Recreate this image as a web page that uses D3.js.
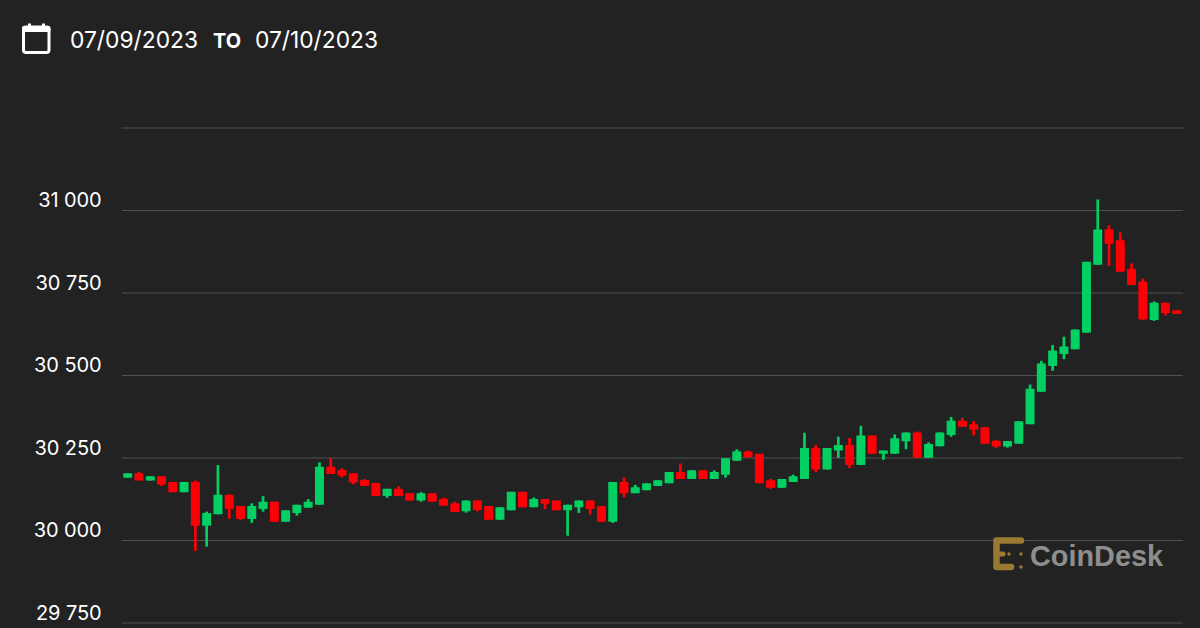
<!DOCTYPE html>
<html><head><meta charset="utf-8">
<script src="https://cdn.jsdelivr.net/npm/d3@7/dist/d3.min.js"></script>
<style>html,body{margin:0;padding:0;background:#222222;overflow:hidden}svg{display:block}</style>
</head><body><svg id="c" width="1200" height="628"></svg>
<script>
const dateFrom = "07/09/2023", dateTo = "07/10/2023", joiner = "TO", brand = "CoinDesk";
const gridTicks = [29750,30000,30250,30500,30750,31000,31250];
const labeledTicks = [29750,30000,30250,30500,30750,31000];
const open = [30189,30202,30180,30193,30176,30145,30176,30043,30078,30137,30103,30064,30094,30116,30055,30082,30098,30107,30222,30212,30202,30182,30173,30133,30155,30142,30120,30142,30124,30111,30087,30120,30103,30061,30090,30146,30099,30124,30120,30090,30099,30120,30103,30055,30176,30142,30151,30164,30172,30206,30185,30211,30185,30198,30240,30268,30261,30181,30158,30176,30185,30279,30214,30271,30288,30227,30317,30261,30261,30299,30326,30249,30284,30318,30361,30351,30342,30301,30283,30292,30351,30449,30527,30564,30578,30628,30834,30942,30908,30821,30783,30667,30719,30696];
const close = [30202,30180,30193,30168,30145,30176,30043,30082,30137,30094,30064,30103,30116,30055,30090,30107,30116,30222,30200,30195,30174,30164,30133,30155,30133,30120,30142,30116,30104,30085,30120,30091,30061,30099,30146,30099,30124,30110,30090,30107,30120,30094,30055,30176,30142,30160,30172,30181,30206,30185,30211,30185,30206,30248,30269,30251,30172,30158,30185,30193,30279,30214,30279,30288,30227,30317,30261,30271,30308,30326,30249,30291,30326,30361,30343,30334,30292,30283,30300,30360,30458,30535,30574,30586,30638,30843,30941,30898,30813,30773,30668,30719,30688,30685];
const high = [30202,30206,30193,30193,30176,30176,30180,30086,30227,30137,30103,30111,30133,30116,30090,30107,30124,30235,30249,30218,30202,30185,30173,30155,30163,30142,30145,30142,30128,30116,30120,30120,30103,30099,30146,30146,30129,30124,30120,30107,30120,30120,30103,30176,30189,30167,30172,30181,30206,30232,30211,30211,30211,30248,30275,30271,30261,30185,30185,30198,30325,30288,30279,30313,30309,30346,30317,30271,30320,30326,30329,30296,30326,30373,30370,30360,30342,30304,30300,30360,30471,30543,30591,30616,30638,30843,31032,30954,30932,30838,30792,30723,30719,30696];
const low = [30189,30180,30180,30164,30145,30145,29967,29980,30078,30064,30061,30052,30086,30055,30055,30074,30098,30107,30200,30190,30169,30164,30133,30128,30133,30120,30116,30116,30104,30085,30083,30087,30061,30061,30090,30099,30099,30094,30090,30013,30082,30077,30055,30052,30129,30142,30151,30164,30172,30185,30185,30185,30185,30189,30240,30249,30172,30155,30158,30176,30185,30206,30214,30249,30218,30227,30261,30243,30261,30275,30249,30249,30284,30313,30343,30317,30292,30279,30280,30292,30351,30449,30513,30548,30578,30628,30834,30830,30813,30773,30668,30664,30681,30685];

const svg = d3.select("#c");
const y = d3.scaleLinear().domain([29750,31250]).range([622.5,127.5]);
const x = d3.scaleLinear().domain([0,open.length-1]).range([127.7,1176.7]);
const fmt = v => { const s = String(v); return s.slice(0,-3)+" "+s.slice(-3); };

// grid
const grid = svg.append("g").attr("transform","translate(122,0)")
  .call(d3.axisRight(y).tickValues(gridTicks).tickSize(1061).tickFormat(""));
grid.select(".domain").remove();
grid.selectAll("line").attr("stroke","#515151").attr("stroke-width",1.2);

// y labels
const axis = svg.append("g").attr("transform","translate(101.5,-9.5)")
  .call(d3.axisLeft(y).tickValues(labeledTicks).tickSize(0).tickPadding(0).tickFormat(fmt));
axis.select(".domain").remove();
axis.selectAll("text").attr("fill","#ffffff").attr("font-family","Inter, 'Liberation Sans', sans-serif")
  .attr("font-size",20).attr("font-weight",400).attr("letter-spacing","-0.1");

// candles
const GREEN="#04CF62", RED="#FB0005";
const idx = d3.range(open.length);
const col = i => close[i]>=open[i]?GREEN:RED;
const marks = svg.append("g");
marks.selectAll("line").data(idx).join("line")
  .attr("x1",i=>x(i)).attr("x2",i=>x(i))
  .attr("y1",i=>y(high[i])).attr("y2",i=>y(low[i]))
  .attr("stroke",col).attr("stroke-width",2.7);
marks.selectAll("rect").data(idx).join("rect")
  .attr("x",i=>x(i)-4.5).attr("width",9)
  .attr("y",i=>y(Math.max(open[i],close[i])))
  .attr("height",i=>Math.abs(y(open[i])-y(close[i])))
  .attr("rx",0.6)
  .attr("fill",col);

// header
const hdrFont="Inter, 'Liberation Sans', sans-serif";
const hdr = svg.append("g");
hdr.append("rect").attr("x",23.5).attr("y",27).attr("width",25.5).attr("height",25.5).attr("rx",2.5)
  .attr("fill","none").attr("stroke","#fff").attr("stroke-width",3);
hdr.append("rect").attr("x",22).attr("y",26).attr("width",28.5).attr("height",6).attr("rx",2).attr("fill","#fff");
hdr.append("rect").attr("x",28).attr("y",23.5).attr("width",3).attr("height",5).attr("fill","#fff");
hdr.append("rect").attr("x",42).attr("y",23.5).attr("width",3).attr("height",5).attr("fill","#fff");
const addT=(t,xp,size,weight,len)=>hdr.append("text").text(t).attr("x",xp).attr("y",48)
  .attr("fill","#fff").attr("font-family",hdrFont).attr("font-size",size).attr("font-weight",weight)
  .attr("textLength",len).attr("lengthAdjust","spacingAndGlyphs");
addT(dateFrom,70,23.5,400,128);
addT(joiner,213,20,700,28);
addT(dateTo,255,23.5,400,123);

// logo
const logo = svg.append("g");
const gold="#9A7A30";
logo.append("path").attr("d",d3.line()([[1021,540.5],[996.5,540.5],[996.5,567],[1011,567]]))
  .attr("fill","none").attr("stroke",gold).attr("stroke-width",6.5).attr("stroke-linecap","round").attr("stroke-linejoin","round");
logo.append("path").attr("d",d3.line()([[997,554],[1003,554]]))
  .attr("fill","none").attr("stroke",gold).attr("stroke-width",5).attr("stroke-linecap","round");
[[1009,554],[1021,554],[1021,567]].forEach(p=>logo.append("circle").attr("cx",p[0]).attr("cy",p[1]).attr("r",1.7).attr("fill",gold));
logo.append("text").text(brand).attr("x",1030).attr("y",565.5).attr("fill","#8E8E8E")
  .attr("font-family","'Liberation Sans', Inter, sans-serif").attr("font-weight",700).attr("font-size",30)
  .attr("textLength",133).attr("lengthAdjust","spacingAndGlyphs");
</script></body></html>
